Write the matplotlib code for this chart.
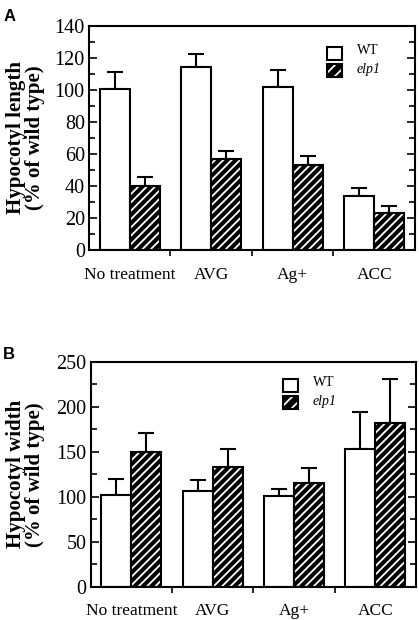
import matplotlib
matplotlib.use("Agg")
import matplotlib.pyplot as plt
import numpy as np
from matplotlib.patches import Rectangle

categories = ["No treatment", "AVG", "Ag+", "ACC"]
series_names = ["WT", "elp1"]

length_wt = [100.4, 114.6, 102.0, 34.0]
length_wt_err = [11.1, 7.9, 10.5, 4.5]
length_elp1 = [40.2, 56.7, 53.0, 23.3]
length_elp1_err = [5.6, 5.3, 5.7, 4.4]

width_wt = [101.5, 106.4, 100.4, 152.7]
width_wt_err = [18.7, 12.7, 8.6, 41.3]
width_elp1 = [149.4, 133.3, 115.8, 182.5]
width_elp1_err = [21.6, 19.7, 16.2, 49.0]

serif = ["Liberation Serif", "DejaVu Serif"]
plt.rcParams["hatch.linewidth"] = 1.3

fig = plt.figure(figsize=(4.19, 6.20), dpi=100)

def panel(rect, wt, wt_err, mut, mut_err, ylim, major, minor, ylabel, letter, letter_y, leg_x, leg_y, label_x):
    ax = fig.add_axes(rect)
    x = np.arange(len(categories))
    w = 0.368
    ax.bar(x - w/2, wt, w, color="white", edgecolor="black", linewidth=1.5, zorder=2)
    ax.bar(x + w/2, mut, w, color="black", edgecolor="white", hatch="////", linewidth=0, zorder=2)
    ax.bar(x + w/2, mut, w, fill=False, edgecolor="black", linewidth=1.5, zorder=3)
    ax.errorbar(x - w/2, wt, yerr=[np.zeros(len(wt)), wt_err], fmt="none", ecolor="black",
                elinewidth=1.5, capsize=6, capthick=1.5, zorder=1)
    ax.errorbar(x + w/2, mut, yerr=[np.zeros(len(mut)), mut_err], fmt="none", ecolor="black",
                elinewidth=1.5, capsize=6, capthick=1.5, zorder=1)
    ax.set_xlim(-0.5, 3.5)
    ax.set_ylim(*ylim)
    ax.set_xticks(x)
    ax.set_xticklabels(categories, fontfamily=serif, fontsize=12.5)
    ax.set_xticks([0.5, 1.5, 2.5], minor=True)
    ax.tick_params(axis="x", which="major", length=0, pad=12)
    ax.tick_params(axis="x", which="minor", length=4, width=1.2, direction="out")
    ax.set_yticks(np.arange(ylim[0], ylim[1] + 0.1, major))
    ax.set_yticks(np.arange(ylim[0], ylim[1] + 0.1, minor), minor=True)
    ax.tick_params(axis="y", which="major", direction="in", length=6, width=1.2, right=True,
                   labelsize=14.5, pad=3)
    ax.tick_params(axis="y", which="minor", direction="in", length=4, width=1.2, right=True)
    for lab in ax.get_yticklabels():
        lab.set_fontfamily(serif)
    for s in ax.spines.values():
        s.set_linewidth(1.5)
    ax.set_ylabel(ylabel, fontfamily=serif, fontweight="bold", fontsize=15, linespacing=0.95)
    ax.yaxis.set_label_coords(label_x, 0.5)
    fig.text(0.008, letter_y, letter, fontfamily=["Liberation Sans", "DejaVu Sans"], fontweight="bold",
             fontsize=12, va="top", ha="left")
    # legend
    h = 0.058
    gap = 0.076
    ax.add_patch(Rectangle((leg_x, leg_y), 0.045, h, transform=ax.transAxes, facecolor="white",
                           edgecolor="black", linewidth=1.5, zorder=4))
    ax.add_patch(Rectangle((leg_x, leg_y - gap), 0.045, h, transform=ax.transAxes, facecolor="black",
                           edgecolor="white", hatch="///", linewidth=0, zorder=4))
    ax.add_patch(Rectangle((leg_x, leg_y - gap), 0.045, h, transform=ax.transAxes, fill=False,
                           edgecolor="black", linewidth=1.5, zorder=5))
    ax.text(leg_x + 0.092, leg_y + h/2 + 0.012, series_names[0], transform=ax.transAxes, fontfamily=serif,
            fontsize=10, va="center", ha="left")
    ax.text(leg_x + 0.092, leg_y - gap + h/2 + 0.005, series_names[1], transform=ax.transAxes,
            fontfamily=serif, fontsize=10, style="italic", va="center", ha="left")
    return ax

panel([0.2124, 0.5968, 0.778, 0.3613], length_wt, length_wt_err, length_elp1, length_elp1_err,
      (0, 140), 20, 10, "Hypocotyl length\n(% of wild type)", "A", 0.985, 0.73, 0.848, -0.135)
panel([0.2165, 0.0537, 0.7765, 0.3624], width_wt, width_wt_err, width_elp1, width_elp1_err,
      (0, 250), 50, 25, "Hypocotyl width\n(% of wild type)", "B", 0.44, 0.591, 0.866, -0.14)

fig.savefig("out.png", dpi=100)
